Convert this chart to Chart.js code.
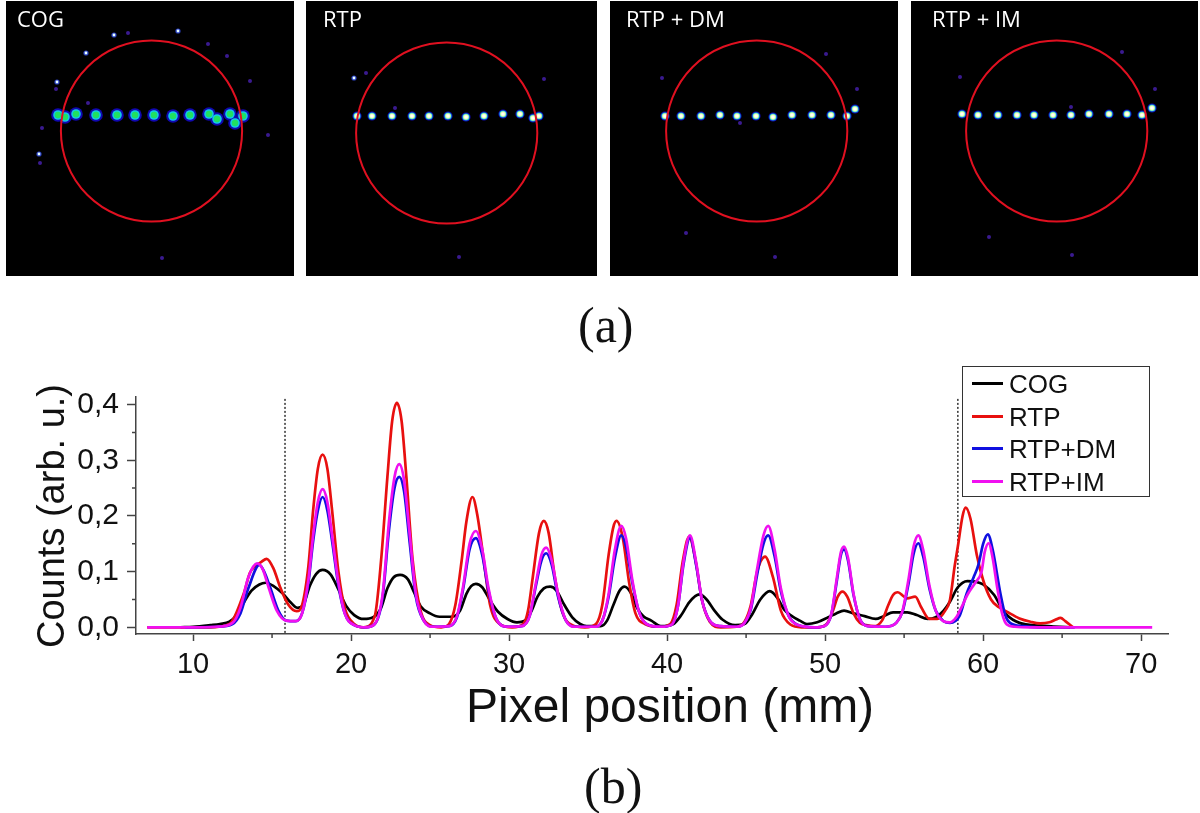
<!DOCTYPE html>
<html>
<head>
<meta charset="utf-8">
<title>Counts vs pixel position</title>
<script src="https://cdn.jsdelivr.net/npm/chart.js@4/dist/chart.umd.min.js"></script>
<style>
    html, body { margin: 0; padding: 0; background: #fff; }
    #page { position: relative; width: 1200px; height: 813px; overflow: hidden; font-family: "Liberation Sans", Arial, sans-serif; color: #111; }
    .panel { position: absolute; top: 1px; height: 275px; background: #000; }
    .panel canvas { filter: blur(0.5px); }
    .panelLabel { position: absolute; top: 2px; font: 22px "Open Sans", sans-serif; color: #fff; white-space: nowrap; }
    .caption { position: absolute; font: 50px "Liberation Serif", serif; line-height: 50px; white-space: nowrap; }
    #mainBox { position: absolute; left: 0; top: 360px; width: 1200px; height: 453px; }
    #xTitle { position: absolute; left: 466px; top: 677px; font-size: 48px; line-height: 58px; white-space: nowrap; }
    #yTitle { position: absolute; left: 51px; top: 516px; font-size: 38px; line-height: 44px; white-space: nowrap; transform: translate(-50%, -50%) rotate(-90deg); }
    #legend { position: absolute; left: 962px; top: 366px; width: 186px; height: 129px; border: 1.5px solid #333; background: #fff; }
    .legendRow { position: absolute; left: 9px; height: 32px; font-size: 26px; line-height: 32px; white-space: nowrap; }
    .legendRow i { display: inline-block; width: 31px; height: 3px; margin-right: 6px; vertical-align: 8px; }
</style>
</head>
<body>
<div id="page">
    <div id="mainBox"><canvas id="mainChart"></canvas></div>
    <div id="yTitle">Counts (arb. u.)</div>
    <div id="xTitle">Pixel position (mm)</div>
    <div id="legend"></div>
    <div class="caption" style="left:578px;top:300px">(a)</div>
    <div class="caption" style="left:584px;top:761px">(b)</div>
</div>
<script>
// Profile curves (x in mm, y in arb. u.)
const cogX = [9.2, 10, 11.1, 11.7, 12.3, 12.8, 13.2, 13.7, 14.2, 14.6, 15.1, 15.7, 16.2, 16.6, 17, 17.4, 17.8, 18.2, 18.7, 19.2, 19.7, 20.2, 20.8, 21.4, 21.9, 22.3, 22.7, 23.1, 23.6, 24, 24.4, 25, 25.6, 26.4, 26.9, 27.3, 27.6, 27.9, 28.3, 28.8, 29.3, 29.9, 30.5, 31, 31.4, 31.8, 32.2, 32.6, 33, 33.5, 34, 34.5, 34.9, 35.8, 36.2, 36.6, 37, 37.3, 37.7, 38.1, 38.5, 39, 39.6, 40.4, 40.9, 41.4, 42.05, 42.5, 43, 43.5, 44.3, 44.9, 45.4, 45.9, 46.5, 47, 47.4, 47.9, 48.4, 48.85, 49.5, 50.2, 50.7, 51.2, 51.8, 52.5, 53.2, 53.7, 54.3, 55.2, 55.8, 56.5, 57, 57.5, 57.9, 58.4, 59, 59.5, 60, 60.7, 61.1, 61.5, 62.3, 63.6, 65.5];
const cogY = [0, .001, .004, .006, .01, .024, .044, .066, .077, .08, .074, .06, .044, .035, .042, .075, .096, .103, .095, .068, .038, .022, .015, .018, .035, .07, .09, .094, .086, .062, .038, .025, .019, .019, .03, .06, .074, .078, .072, .048, .028, .015, .009, .012, .028, .055, .07, .073, .066, .04, .018, .006, .002, .002, .012, .04, .066, .073, .062, .035, .02, .012, .002, .006, .022, .045, .059, .05, .03, .014, .004, .006, .024, .05, .065, .052, .032, .02, .012, .006, .009, .018, .025, .03, .025, .02, .015, .02, .027, .027, .022, .015, .018, .03, .046, .072, .083, .082, .077, .058, .038, .022, .008, .003, 0];

const rtpX = [7.1, 11, 12.3, 13.2, 13.6, 13.9, 14.3, 14.66, 15.1, 15.5, 16, 16.56, 16.9, 17.3, 17.6, 17.9, 18.2, 18.5, 18.8, 19.2, 19.6, 20.2, 20.8, 21.5, 21.9, 22.3, 22.6, 22.9, 23.2, 23.5, 23.9, 24.4, 25, 25.7, 26.2, 26.6, 27, 27.3, 27.68, 28, 28.4, 28.8, 29.4, 30.2, 30.9, 31.2, 31.5, 31.9, 32.2, 32.5, 32.9, 33.4, 34, 34.8, 35.5, 35.9, 36.3, 36.6, 36.8, 37.2, 37.6, 38, 38.6, 39.5, 40.2, 40.6, 41, 41.4, 41.8, 42.2, 42.7, 43.4, 44.4, 44.9, 45.3, 45.7, 46.2, 46.7, 47.2, 47.8, 48.5, 49.5, 50.1, 50.5, 50.8, 51.1, 51.4, 51.8, 52.2, 52.6, 53.1, 53.6, 54, 54.3, 54.6, 55, 55.2, 55.7, 56.1, 56.6, 57.1, 57.6, 57.9, 58.2, 58.4, 58.7, 58.9, 59.2, 59.6, 60, 60.5, 61, 61.5, 62.3, 63, 63.6, 64.2, 64.6, 64.9, 65.2, 65.7];
const rtpY = [0, 0, .006, .06, .098, .109, .117, .123, .105, .073, .042, .029, .04, .11, .21, .285, .31, .285, .21, .1, .035, .006, 0, .02, .12, .27, .37, .403, .37, .27, .12, .03, .004, 0, .006, .04, .12, .19, .234, .2, .12, .04, .006, 0, .006, .03, .09, .17, .191, .17, .09, .025, .004, 0, .006, .04, .13, .18, .191, .16, .08, .025, .006, .001, .006, .04, .12, .163, .12, .05, .01, 0, .001, .01, .04, .1, .127, .09, .03, .005, 0, 0, .006, .03, .055, .064, .055, .025, .008, .004, .002, .012, .04, .058, .063, .055, .052, .055, .035, .015, .015, .03, .049, .11, .145, .2, .215, .195, .13, .085, .05, .036, .028, .016, .01, .007, .009, .014, .017, .011, 0];

const dmX = [9.5, 11.5, 12.5, 13, 13.5, 14.2, 14.5, 14.9, 15.4, 15.9, 16.5, 16.9, 17.3, 17.6, 17.9, 18.2, 18.5, 18.8, 19.2, 19.6, 20.2, 20.9, 21.5, 22, 22.4, 22.75, 23.05, 23.35, 23.7, 24.1, 24.6, 25.2, 26.2, 26.7, 27.1, 27.5, 27.9, 28.3, 28.7, 29.2, 29.9, 30.8, 31.3, 31.7, 32.05, 32.35, 32.7, 33.1, 33.6, 34.2, 35.4, 35.9, 36.3, 36.7, 37.1, 37.4, 37.8, 38.2, 38.7, 39.6, 40.3, 40.7, 41.05, 41.45, 41.85, 42.2, 42.7, 43.4, 44.4, 44.9, 45.3, 45.7, 46.1, 46.4, 46.8, 47.2, 47.7, 48.3, 49.3, 50, 50.4, 50.75, 51, 51.2, 51.45, 51.8, 52.2, 52.7, 53.8, 54.5, 54.9, 55.3, 55.6, 55.9, 56.2, 56.6, 57, 57.5, 57.9, 58.5, 58.95, 59.4, 59.7, 60, 60.3, 60.6, 61.1, 61.4, 61.7, 62.5, 63.5, 65.8];
const dmY = [0, .001, .006, .025, .07, .112, .1, .07, .03, .012, .011, .025, .08, .155, .21, .234, .21, .155, .075, .025, .004, 0, .006, .055, .175, .25, .27, .245, .155, .055, .012, .001, .002, .018, .07, .14, .16, .13, .065, .015, .001, .002, .02, .075, .12, .133, .112, .055, .012, .001, .001, .012, .055, .125, .165, .145, .08, .03, .006, .001, .005, .04, .115, .16, .11, .05, .012, .002, .001, .008, .032, .095, .15, .165, .128, .065, .02, .004, 0, .003, .024, .085, .13, .14, .12, .058, .015, .002, .001, .008, .028, .082, .132, .151, .128, .07, .03, .011, .008, .02, .06, .09, .112, .15, .167, .14, .06, .022, .008, .002, 0, 0];

const imX = [7.1, 10, 11.5, 12.5, 13, 13.5, 14.05, 14.4, 14.8, 15.3, 15.9, 16.5, 16.9, 17.3, 17.6, 17.9, 18.2, 18.5, 18.8, 19.2, 19.6, 20.2, 20.9, 21.5, 22, 22.4, 22.75, 23.05, 23.35, 23.7, 24.1, 24.6, 25.2, 26.2, 26.7, 27.1, 27.5, 27.9, 28.3, 28.7, 29.2, 29.9, 30.8, 31.3, 31.7, 32.05, 32.35, 32.7, 33.1, 33.6, 34.2, 35.4, 35.9, 36.3, 36.7, 37.1, 37.4, 37.8, 38.2, 38.7, 39.6, 40.3, 40.7, 41.05, 41.45, 41.85, 42.2, 42.7, 43.4, 44.4, 44.9, 45.3, 45.7, 46.1, 46.4, 46.8, 47.2, 47.7, 48.3, 49.3, 50, 50.4, 50.75, 51, 51.2, 51.45, 51.8, 52.2, 52.7, 53.8, 54.5, 54.9, 55.3, 55.6, 55.9, 56.2, 56.6, 57, 57.5, 57.9, 58.3, 58.7, 59, 59.5, 59.9, 60.1, 60.35, 60.6, 60.9, 61.2, 61.5, 62, 63, 70.7];
const imY = [0, 0, .001, .008, .035, .09, .115, .105, .07, .03, .012, .011, .025, .085, .165, .225, .248, .225, .165, .08, .025, .004, 0, .006, .06, .19, .27, .293, .265, .17, .06, .012, .001, .002, .02, .075, .15, .173, .14, .07, .015, .001, .002, .02, .08, .13, .143, .12, .06, .012, .001, .001, .012, .06, .14, .182, .16, .085, .03, .006, .001, .005, .04, .12, .165, .115, .05, .012, .002, .001, .008, .035, .105, .165, .182, .14, .07, .02, .004, 0, .003, .025, .09, .135, .145, .125, .06, .015, .002, .001, .008, .03, .09, .145, .165, .14, .075, .03, .011, .009, .018, .04, .058, .08, .1, .135, .151, .125, .07, .025, .005, .001, 0, 0];

const seriesNames = ['COG', 'RTP', 'RTP+DM', 'RTP+IM'];
const seriesColors = ['#000000', '#e8100f', '#1010e0', '#f010f0'];

// Dotted markers of the aperture edges
const apertureX = [15.82, 58.4];
const apertureY = [-0.01, 0.411];

const xTicks = [10, 20, 30, 40, 50, 60, 70];
const xMinorTicks = [15, 25, 35, 45, 55, 65];
const yTicks = [0, 0.1, 0.2, 0.3, 0.4];
const yTickLabels = ['0,0', '0,1', '0,2', '0,3', '0,4'];
const yMinorTicks = [0.05, 0.15, 0.25, 0.35];

// Beam images, in pixels of each panel
const panelNames = ['COG', 'RTP', 'RTP + DM', 'RTP + IM'];
const panelLeft = [6, 306, 610, 911];
const panelWidth = [288, 291, 288, 287];
const labelLeft = [17, 323, 626, 932];

const circleX = [145.5, 140.7, 146.7, 145.7];
const circleY = [130, 132, 130, 130];

const spotX = [
    [52, 59, 70, 90, 111, 129, 148, 167, 184, 203, 211, 224, 229, 237],
    [51, 66, 86, 106, 123, 142, 160, 178, 197, 214, 227, 233],
    [55, 71, 91, 110, 127, 146, 163, 182, 202, 221, 237, 245],
    [51, 67, 87, 106, 123, 142, 160, 178, 198, 216, 231, 241]
];
const spotY = [
    [114, 116, 113, 114, 114, 114, 114, 115, 114, 113, 118, 113, 122, 115],
    [115, 115, 115, 115, 115, 115, 116, 115, 113, 113, 117, 115],
    [115, 115, 115, 114, 115, 115, 116, 114, 114, 114, 115, 108],
    [113, 114, 114, 114, 114, 114, 114, 113, 113, 113, 114, 107]
];
const brightX = [[108, 172, 80, 51, 33], [48], [], []];
const brightY = [[34, 30, 52, 81, 153], [77], [], []];
const dimX = [
    [122, 202, 221, 244, 36, 34, 262, 156, 82, 50],
    [89, 238, 60, 153],
    [216, 52, 247, 165, 76, 130],
    [211, 49, 244, 161, 78, 160]
];
const dimY = [
    [32, 43, 55, 80, 127, 162, 134, 257, 102, 88],
    [107, 78, 72, 256],
    [53, 77, 88, 256, 232, 122],
    [51, 76, 88, 254, 236, 106]
];

function zip(xs, ys) {
    return xs.map((x, i) => ({ x: x, y: ys[i] }));
}

// Малые деления осей: Chart.js сам их не рисует
const minorTicksPlugin = {
    id: 'minorTicks',
    afterDraw: function (chart) {
        const ctx = chart.ctx;
        const xScale = chart.scales.x;
        const yScale = chart.scales.y;
        ctx.save();
        ctx.strokeStyle = '#444';
        ctx.lineWidth = 1.5;
        ctx.beginPath();
        xMinorTicks.forEach(function (v) {
            const px = xScale.getPixelForValue(v);
            ctx.moveTo(px, xScale.top);
            ctx.lineTo(px, xScale.top + 4);
        });
        yMinorTicks.forEach(function (v) {
            const py = yScale.getPixelForValue(v);
            ctx.moveTo(yScale.right, py);
            ctx.lineTo(yScale.right - 4, py);
        });
        ctx.stroke();
        ctx.restore();
    }
};

function curve(index, xs, ys) {
    return {
        label: seriesNames[index],
        data: zip(xs, ys),
        showLine: true,
        borderColor: seriesColors[index],
        borderWidth: 2.7,
        pointRadius: 0,
        cubicInterpolationMode: 'monotone'
    };
}

function apertureLine(x) {
    return {
        label: 'aperture',
        data: zip([x, x], apertureY),
        showLine: true,
        borderColor: '#333',
        borderWidth: 1.5,
        borderDash: [2, 2],
        pointRadius: 0
    };
}

// Chart.js рисует первый набор последним, поэтому RTP+IM идёт первым
new Chart(document.getElementById('mainChart'), {
    type: 'scatter',
    data: {
        datasets: [
            curve(3, imX, imY),
            curve(2, dmX, dmY),
            curve(1, rtpX, rtpY),
            curve(0, cogX, cogY),
            apertureLine(apertureX[0]),
            apertureLine(apertureX[1])
        ]
    },
    options: {
        responsive: true,
        maintainAspectRatio: false,
        animation: false,
        layout: { padding: { left: 0, right: 32, top: 37, bottom: 0 } },
        plugins: { legend: { display: false }, tooltip: { enabled: false } },
        scales: {
            x: {
                type: 'linear',
                min: 6.39,
                max: 71.7,
                afterBuildTicks: function (scale) {
                    scale.ticks = xTicks.map(v => ({ value: v }));
                },
                afterFit: function (scale) { scale.height = 179; },
                border: { color: '#444', width: 1.5 },
                grid: { drawOnChartArea: false, tickLength: 7, tickColor: '#444', tickWidth: 1.5 },
                ticks: { color: '#111', padding: 7, maxRotation: 0, font: { family: '"Liberation Sans"', size: 29 } }
            },
            y: {
                type: 'linear',
                min: -0.012,
                max: 0.4136,
                afterBuildTicks: function (scale) {
                    scale.ticks = yTicks.map(v => ({ value: v }));
                },
                afterFit: function (scale) { scale.width = 136; },
                border: { color: '#444', width: 1.5 },
                grid: { drawOnChartArea: false, tickLength: 9, tickColor: '#444', tickWidth: 1.5 },
                ticks: {
                    color: '#111',
                    padding: 8,
                    font: { family: '"Liberation Sans"', size: 30 },
                    callback: function (value, index) { return yTickLabels[index]; }
                }
            }
        }
    },
    plugins: [minorTicksPlugin]
});

// Легенда
const legendBox = document.getElementById('legend');
seriesNames.forEach(function (name, i) {
    const row = document.createElement('div');
    row.className = 'legendRow';
    row.style.top = (i * 32.5 + 1) + 'px';
    row.innerHTML = '<i style="background:' + seriesColors[i] + '"></i>' + name;
    legendBox.appendChild(row);
});

function spotLayer(xs, ys, color, radius) {
    return { data: zip(xs, ys), pointRadius: radius, pointBackgroundColor: color, pointBorderWidth: 0 };
}

// Панели (a)
panelNames.forEach(function (name, i) {
    const panel = document.createElement('div');
    panel.className = 'panel';
    panel.style.left = panelLeft[i] + 'px';
    panel.style.width = panelWidth[i] + 'px';
    const canvas = document.createElement('canvas');
    panel.appendChild(canvas);
    const label = document.createElement('div');
    label.className = 'panelLabel';
    label.style.left = (labelLeft[i] - panelLeft[i]) + 'px';
    label.textContent = name;
    panel.appendChild(label);
    document.getElementById('page').appendChild(panel);

    const isCog = i === 0;
    new Chart(canvas, {
        type: 'scatter',
        data: {
            datasets: [
                {
                    data: zip([circleX[i]], [circleY[i]]),
                    pointRadius: 90.6,
                    pointBackgroundColor: 'transparent',
                    pointBorderColor: '#e01020',
                    pointBorderWidth: 2
                },
                spotLayer(isCog ? [] : spotX[i], isCog ? [] : spotY[i], '#ffffff', 1.8),
                spotLayer(spotX[i], spotY[i], isCog ? '#20e060' : '#e0ffa0', isCog ? 3.2 : 2.8),
                spotLayer(spotX[i], spotY[i], '#12c8e8', isCog ? 4.8 : 3.6),
                spotLayer(spotX[i], spotY[i], '#1008b0', isCog ? 6.8 : 4.6),
                spotLayer(brightX[i], brightY[i], '#e8ffff', 1.4),
                spotLayer(brightX[i], brightY[i], '#2a40c0', 2.6),
                spotLayer(dimX[i], dimY[i], '#3a1a90', 2)
            ]
        },
        options: {
            responsive: true,
            maintainAspectRatio: false,
            animation: false,
            layout: { padding: 0, autoPadding: false },
            plugins: { legend: { display: false }, tooltip: { enabled: false } },
            scales: {
                x: { type: 'linear', display: false, min: 0, max: panelWidth[i] },
                y: { type: 'linear', display: false, min: 0, max: 275, reverse: true }
            }
        }
    });
});
</script>
</body>
</html>
